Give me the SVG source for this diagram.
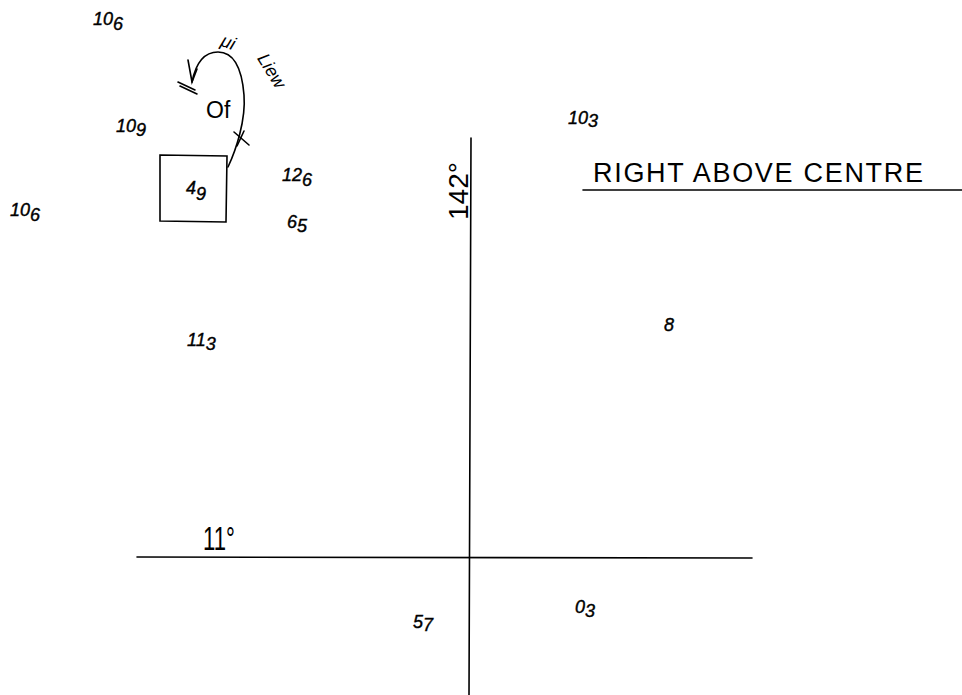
<svg xmlns="http://www.w3.org/2000/svg" width="962" height="695" viewBox="0 0 962 695">
<style>
.ln{stroke:#000;stroke-width:1.6;fill:none;stroke-linecap:round}
.lb{font-family:"Liberation Sans",Arial,sans-serif;font-style:italic;font-size:18px;fill:#000;stroke:#000;stroke-width:0.4}
.hd{font-family:"Liberation Sans",Arial,sans-serif;fill:#000}
</style>
<rect width="962" height="695" fill="#fff"/>
<g id="connectors">
<line class="ln" x1="471" y1="138" x2="469" y2="695"/>
<line class="ln" x1="137" y1="557" x2="752" y2="558"/>
<line class="ln" x1="583" y1="190" x2="962" y2="190"/>
<path class="ln" d="M228,167 C236,150 246,120 244,95 C242,70 235,52 218,52 C205,52 196,62 192,82"/>
<path class="ln" d="M188,60 L192,82 L197,69"/>
<line class="ln" x1="178" y1="82" x2="195" y2="90"/>
<line class="ln" x1="180" y1="86" x2="197" y2="94"/>
<line class="ln" x1="234" y1="132" x2="249" y2="145"/>
<line class="ln" x1="237" y1="146" x2="244" y2="131"/>
</g>
<g id="node-box">
<path class="ln" d="M160,155 L227,156 L226,222 L160,221 Z"/>
<text class="lb" x="186" y="194" font-size="21">4<tspan dy="6">9</tspan></text>
</g>
<g id="node-labels">
<text class="lb" x="93" y="25">10<tspan dy="5">6</tspan></text>
<text class="lb" x="116" y="132">10<tspan dy="4">9</tspan></text>
<text class="lb" x="282" y="181">12<tspan dy="5">6</tspan></text>
<text class="lb" x="287" y="228">6<tspan dy="4">5</tspan></text>
<text class="lb" x="10" y="216">10<tspan dy="5">6</tspan></text>
<text class="lb" x="187" y="346">11<tspan dy="4">3</tspan></text>
<text class="lb" x="568" y="124" font-size="16">10<tspan dy="3">3</tspan></text>
<text class="lb" x="664" y="331">8</text>
<text class="lb" x="413" y="628">5<tspan dy="3">7</tspan></text>
<text class="lb" x="575" y="613">0<tspan dy="4">3</tspan></text>
</g>
<g id="annotations">
<text class="hd" x="206" y="118" font-size="23">Of</text>
<text class="hd" x="221" y="49" font-size="18" font-style="italic" transform="rotate(20 230 44)">μi</text>
<text class="hd" x="247" y="64" font-size="18" font-style="italic" transform="rotate(58 257 70)">Liew</text>
<text class="hd" x="593" y="182" font-size="27" textLength="330" lengthAdjust="spacing">RIGHT ABOVE CENTRE</text>
<text class="hd" x="0" y="0" font-size="27" textLength="58" lengthAdjust="spacingAndGlyphs" transform="translate(468,220) rotate(-90)">142°</text>
<text class="hd" x="0" y="0" font-size="34" transform="translate(203,550) scale(0.65,1)">11°</text>
</g>
</svg>
